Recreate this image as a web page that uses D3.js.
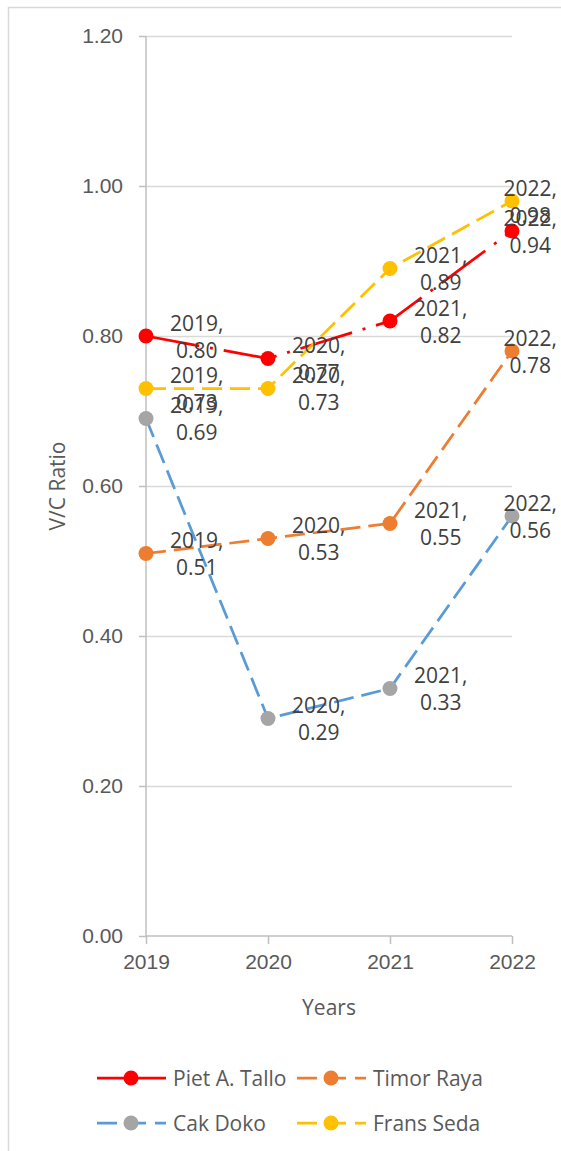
<!DOCTYPE html>
<html>
<head>
<meta charset="utf-8">
<script src="https://cdn.jsdelivr.net/npm/d3@7"></script>
<style>
  html, body { margin: 0; padding: 0; background: #fff; }
  svg { display: block; font-family: "Open Sans", Lato, sans-serif; }
</style>
</head>
<body>
<svg id="chart" width="561" height="1151"></svg>
<script>
// Yearly V/C ratio per road section
const years = ["2019", "2020", "2021", "2022"];
const pietTallo = [0.80, 0.77, 0.82, 0.94];
const timorRaya = [0.51, 0.53, 0.55, 0.78];
const cakDoko = [0.69, 0.29, 0.33, 0.56];
const fransSeda = [0.73, 0.73, 0.89, 0.98];
const yTicks = [0, 0.2, 0.4, 0.6, 0.8, 1.0, 1.2];
const seriesNames = ["Piet A. Tallo", "Timor Raya", "Cak Doko", "Frans Seda"];

const series = [
  { name: seriesNames[0], values: pietTallo, line: "#ff0000", marker: "#ff0000", dash: "54,11,3,11" },
  { name: seriesNames[1], values: timorRaya, line: "#ed7d31", marker: "#ed7d31", dash: "20,8" },
  { name: seriesNames[2], values: cakDoko,   line: "#5b9bd5", marker: "#a5a5a5", dash: "20,8" },
  { name: seriesNames[3], values: fransSeda, line: "#ffc000", marker: "#ffc000", dash: "20,8" }
];

const svg = d3.select("#chart");
const plot = { left: 146, right: 512, top: 36, bottom: 936 };
const font = 21;
const textCol = "#595959";
const labelCol = "#404040";

// outer chart frame (only top and left edges fall inside the page)
svg.append("rect")
  .attr("x", 8.5).attr("y", 7.5)
  .attr("width", 600).attr("height", 1200)
  .attr("fill", "none").attr("stroke", "#d9d9d9").attr("stroke-width", 1.5);

const x = d3.scalePoint().domain(years).range([plot.left, plot.right]);
const y = d3.scaleLinear().domain([0, 1.2]).range([plot.bottom, plot.top]);

// horizontal gridlines
svg.append("g")
  .attr("transform", `translate(${plot.left},0)`)
  .call(d3.axisLeft(y).tickValues(yTicks.slice(1)).tickSize(-(plot.right - plot.left)).tickFormat(""))
  .call(g => g.select(".domain").remove())
  .call(g => g.selectAll("line").attr("stroke", "#d9d9d9").attr("stroke-width", 1.5));

// y axis
svg.append("g")
  .attr("transform", `translate(${plot.left},0)`)
  .call(d3.axisLeft(y).tickValues(yTicks).tickSize(7).tickPadding(16).tickFormat(d3.format(".2f")))
  .call(g => g.select(".domain").attr("stroke", "#bfbfbf").attr("stroke-width", 1.5).attr("d", `M0,${plot.top}V${plot.bottom}`))
  .call(g => g.selectAll("line").attr("stroke", "#bfbfbf").attr("stroke-width", 1.5))
  .call(g => g.selectAll("text").attr("fill", textCol).attr("font-size", font).attr("font-family", null));

// x axis
svg.append("g")
  .attr("transform", `translate(0,${plot.bottom})`)
  .call(d3.axisBottom(x).tickSize(8).tickPadding(10))
  .call(g => g.select(".domain").attr("stroke", "#bfbfbf").attr("stroke-width", 1.5).attr("d", `M${plot.left},0H${plot.right}`))
  .call(g => g.selectAll("line").attr("stroke", "#bfbfbf").attr("stroke-width", 1.5))
  .call(g => g.selectAll("text").attr("fill", textCol).attr("font-size", font).attr("font-family", null));

// axis titles
svg.append("text")
  .attr("transform", "translate(57,486) rotate(-90)")
  .attr("text-anchor", "middle").attr("dominant-baseline", "central")
  .attr("fill", textCol).attr("font-size", font)
  .text("V/C Ratio");
svg.append("text")
  .attr("x", (plot.left + plot.right) / 2).attr("y", 1007)
  .attr("text-anchor", "middle").attr("dominant-baseline", "central")
  .attr("fill", textCol).attr("font-size", font)
  .text("Years");

// series lines and markers
const line = d3.line().x((d, i) => x(years[i])).y(d => y(d));
series.forEach(s => {
  svg.append("path")
    .datum(s.values)
    .attr("d", line)
    .attr("fill", "none")
    .attr("stroke", s.line)
    .attr("stroke-width", 2.75)
    .attr("stroke-dasharray", s.dash);
  svg.append("g").selectAll("circle")
    .data(s.values)
    .join("circle")
    .attr("cx", (d, i) => x(years[i]))
    .attr("cy", d => y(d))
    .attr("r", 7.5)
    .attr("fill", s.marker);
});

// data labels: "year," over "value", to the right of each point
const fmt = d3.format(".2f");
series.forEach(s => {
  s.values.forEach((v, i) => {
    const px = x(years[i]), py = y(v);
    const t = svg.append("text")
      .attr("fill", labelCol).attr("font-size", font)
      .attr("text-anchor", "middle");
    t.append("tspan").attr("x", 0).attr("y", py - 13.5).attr("dominant-baseline", "central").text(years[i] + ",");
    t.append("tspan").attr("x", 0).attr("y", py + 13.5).attr("dominant-baseline", "central").text(fmt(v));
    const w = t.node().getBBox().width;
    let cx = px + 24 + w / 2;
    if (cx + w / 2 > 557) cx = 557 - w / 2;
    t.selectAll("tspan").attr("x", cx);
  });
});

// legend
const legendPos = [
  { x: 97, y: 1078 }, { x: 297, y: 1078 },
  { x: 97, y: 1123 }, { x: 297, y: 1123 }
];
series.forEach((s, i) => {
  const p = legendPos[i];
  const g = svg.append("g").attr("transform", `translate(${p.x},${p.y})`);
  g.append("line")
    .attr("x1", 0).attr("x2", 69).attr("y1", 0).attr("y2", 0)
    .attr("stroke", s.line).attr("stroke-width", 2.75)
    .attr("stroke-dasharray", i === 0 ? null : "20,9");
  g.append("circle").attr("cx", 34).attr("cy", 0).attr("r", 7.5).attr("fill", s.marker);
  g.append("text")
    .attr("x", 76).attr("y", 0)
    .attr("dominant-baseline", "central")
    .attr("fill", textCol).attr("font-size", font)
    .text(s.name);
});
</script>
</body>
</html>
